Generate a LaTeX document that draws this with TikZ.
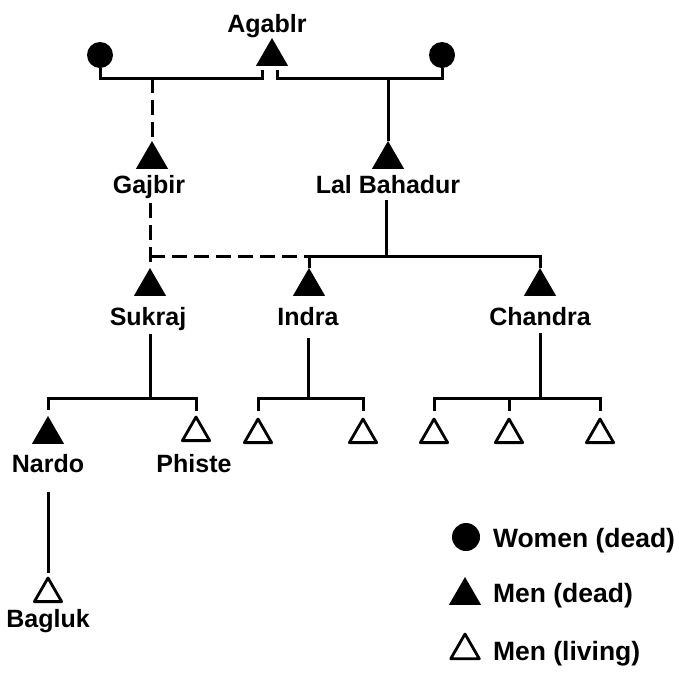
\documentclass[tikz,border=0pt]{standalone}
\usepackage{fontspec}
\setmainfont{Liberation Sans}
\usetikzlibrary{shapes.geometric}
\begin{document}
\begin{tikzpicture}[x=1pt,y=-1pt,
  dead/.style={regular polygon, regular polygon sides=3, fill=black, draw=none, minimum size=37pt, inner sep=0pt, outer sep=0pt, anchor=corner 1},
  alive/.style={regular polygon, regular polygon sides=3, draw=black, line width=2.8pt, line join=round, fill=none, minimum size=31.5pt, inner sep=0pt, outer sep=0pt, anchor=corner 1},
  woman/.style={circle, fill=black, draw=none, minimum size=26pt, inner sep=0pt, outer sep=0pt},
  lbl/.style={font=\fontsize{25}{28}\selectfont\bfseries, inner sep=0pt, outer sep=0pt, anchor=base},
  keytext/.style={font=\fontsize{26.5}{30}\selectfont\bfseries, inner sep=0pt, outer sep=0pt, anchor=base west},
  link/.style={line width=3pt},
  kin/.style={line width=3pt, dash pattern=on 15pt off 7pt},
]
\useasboundingbox (0,0) rectangle (679,673);
% generation 1
\node[woman] (w1) at (100,55) {};
\node[woman] (w2) at (442,55) {};
\node[dead] (ag) at (272,38) {};
\node[lbl] (agt) at (267,32) {Agablr};
% generation 2
\node[dead] (gaj) at (152,141) {};
\node[lbl] (gajt) at (149,193) {Gajbir};
\node[dead] (lal) at (388,141) {};
\node[lbl] (lalt) at (388,193) {Lal Bahadur};
% generation 3
\node[dead] (suk) at (150,268) {};
\node[lbl] (sukt) at (148,325) {Sukraj};
\node[dead] (ind) at (309,268) {};
\node[lbl] (indt) at (308,325) {Indra};
\node[dead] (cha) at (540,268) {};
\node[lbl] (chat) at (540,325) {Chandra};
% generation 4
\node[dead] (nar) at (48,416) {};
\node[lbl] (nart) at (48,472) {Nardo};
\node[alive] (phi) at (196,417) {};
\node[lbl] (phit) at (194,472) {Phiste};
\node[alive] (i1) at (258,419) {};
\node[alive] (i2) at (363,419) {};
\node[alive] (c1) at (434,419) {};
\node[alive] (c2) at (509,419) {};
\node[alive] (c3) at (600,419) {};
% generation 5
\node[alive] (bag) at (48,578) {};
\node[lbl] (bagt) at (48,627) {Bagluk};
% legend
\node[woman, minimum size=28pt] (lw) at (466,537) {};
\node[keytext] (lwt) at (493,547) {Women (dead)};
\node[dead, minimum size=37pt] (ld) at (465,577) {};
\node[keytext] (ldt) at (493,602) {Men (dead)};
\node[alive, minimum size=33pt] (la) at (465,634) {};
\node[keytext] (lat) at (493,660) {Men (living)};
% junction coordinates
\coordinate (mL) at (152,78);
\coordinate (mR) at (388,78);
\coordinate (gajB) at (150,203);
\coordinate (lalB) at (386,200);
\coordinate (sibM) at (307,256);
\coordinate (sukB) at (150,334);
\coordinate (sukJ) at (150,398);
\coordinate (indB) at (308,338);
\coordinate (indJ) at (308,398);
\coordinate (chaB) at (540,333);
\coordinate (chaJ) at (540,398);
\coordinate (narB) at (48,492);
% marriages
\draw[link] (w1.south) -- (w1.south |- mL) -| ([xshift=7pt,yshift=-4pt]ag.corner 2);
\draw[link] ([xshift=-11pt,yshift=-4pt]ag.corner 3) |- (mR) -| (w2.south);
\draw[kin] (mL) -- (gaj.corner 1);
\draw[link] (mR) -- (lal.corner 1);
% sibling bar of generation 3
\draw[link] (lalB) -- (lalB |- sibM);
\draw[link] (ind.corner 1) -- (ind.corner 1 |- sibM) -| (cha.corner 1);
\draw[kin] (gajB) -- (suk.corner 1);
\draw[kin] (gajB |- sibM) -- (ind.corner 1 |- sibM);
% generation 4
\draw[link] (sukB) -- (sukJ);
\draw[link, shorten <=6pt, shorten >=6pt] (nar.corner 1) |- (sukJ) -| (phi.corner 1);
\draw[link] (indB) -- (indJ);
\draw[link, shorten <=8pt, shorten >=8pt] (i1.corner 1) |- (indJ) -| (i2.corner 1);
\draw[link] (chaB) -- (chaJ);
\draw[link, shorten <=8pt, shorten >=8pt] (c1.corner 1) |- (chaJ) -| (c3.corner 1);
\draw[link, shorten <=8pt] (c2.corner 1) -- (c2.corner 1 |- chaJ);
% generation 5
\draw[link, shorten >=5pt] (narB) -- (bag.corner 1);
\end{tikzpicture}
\end{document}
